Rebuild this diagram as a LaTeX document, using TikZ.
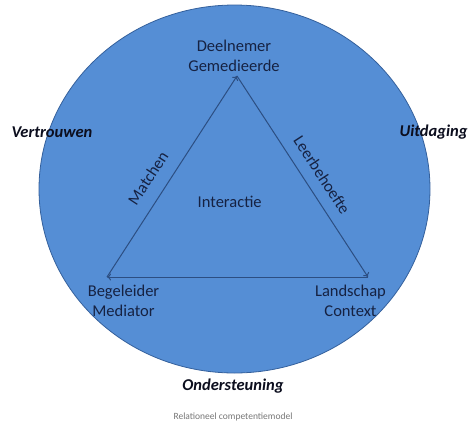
\documentclass[tikz,border=0pt]{standalone}
\usepackage{fontspec}
\setmainfont{Carlito}
\usetikzlibrary{arrows.meta}
\definecolor{discfill}{RGB}{85,142,213}
\definecolor{discedge}{RGB}{52,96,156}
\definecolor{edgeline}{RGB}{44,78,130}
\definecolor{navytext}{RGB}{22,34,66}
\definecolor{outtext}{RGB}{12,14,30}
\definecolor{captgray}{RGB}{120,120,120}
\tikzset{
  inlabel/.style={text=navytext, font=\fontsize{16.5}{19.5}\selectfont, align=center, inner sep=0pt},
  outlabel/.style={text=outtext, font=\fontsize{16.5}{19.5}\selectfont\bfseries\itshape, inner sep=0pt},
  edgelabel/.style={text=navytext, font=\fontsize{16.5}{19.5}\selectfont, inner sep=0pt},
  relation/.style={draw=edgeline, line width=1pt, -{To[length=4pt,width=7pt]}},
  caption/.style={text=captgray, font=\fontsize{9.5}{11}\selectfont, inner sep=0pt}
}
\begin{document}
\begin{tikzpicture}[x=1pt,y=-1pt]
\useasboundingbox (0,0) rectangle (469,424);
\fill[white] (0,0) rectangle (469,424);
\filldraw[fill=discfill, draw=discedge, line width=0.8pt] (234.5,189) ellipse [x radius=195.5, y radius=184];
\coordinate (apex) at (237,76);
\coordinate (bl) at (107,277);
\coordinate (br) at (368,277);
\draw[relation] (bl) -- (apex);
\draw[relation] (apex) -- (br);
\draw[relation] (br) -- (bl);
\node[inlabel] (deel) at (234,56) {Deelnemer\\Gemedieerde};
\node[inlabel] (beg) at (123.5,301) {Begeleider\\Mediator};
\node[inlabel] (land) at (350.5,301) {Landschap\\Context};
\node[inlabel] (inter) at (229.7,202) {Interactie};
\node[edgelabel, rotate=57] (match) at (148,178) {Matchen};
\node[edgelabel, rotate=-57] (leer) at (322,175) {Leerbehoefte};
\node[outlabel] (vert) at (52,132) {Vertrouwen};
\node[outlabel] (uit) at (433.5,132) {Uitdaging};
\node[outlabel] (onder) at (233,386) {Ondersteuning};
\node[caption] (capt) at (233,417) {Relationeel competentiemodel};
\end{tikzpicture}
\end{document}
